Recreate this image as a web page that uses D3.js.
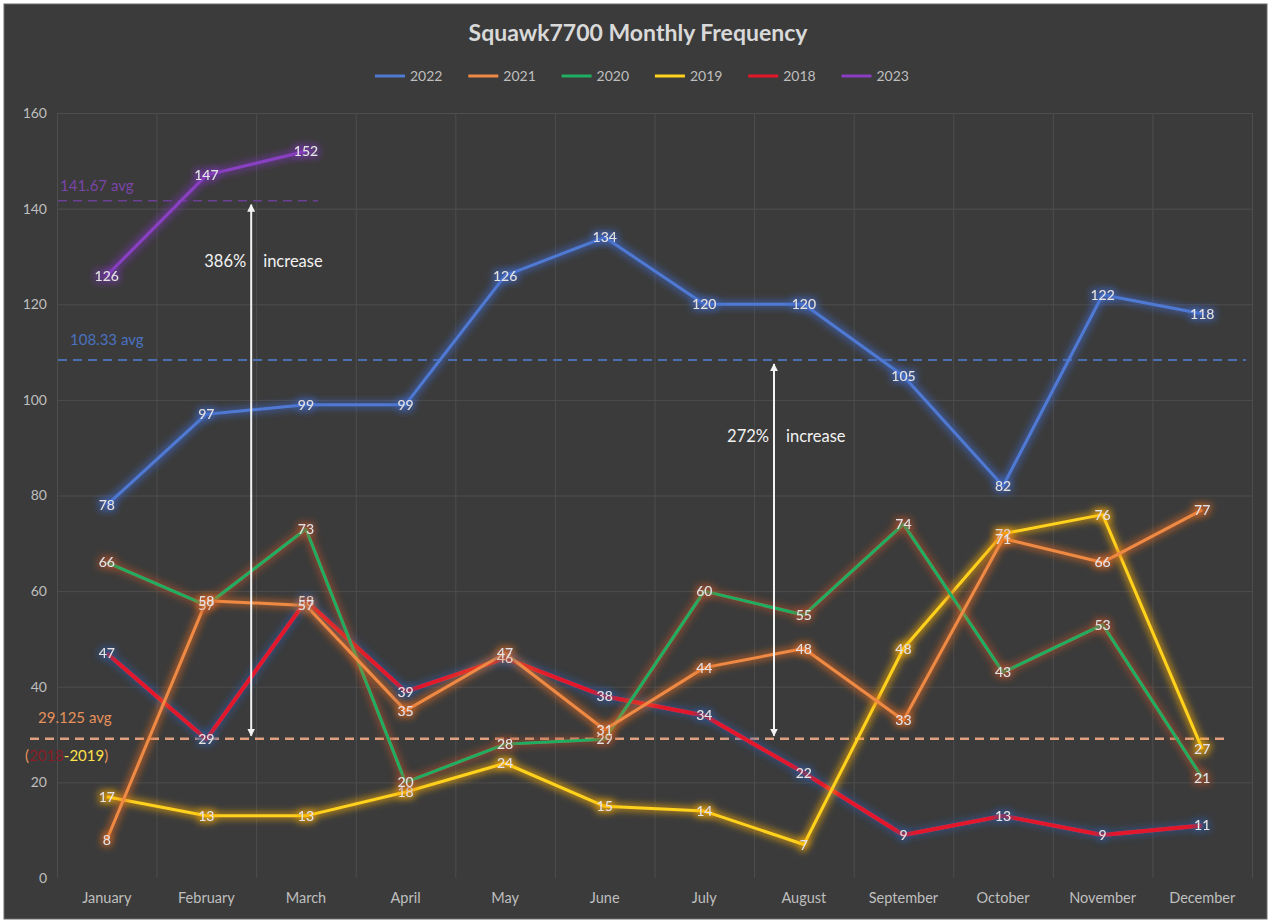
<!DOCTYPE html>
<html>
<head>
<meta charset="utf-8">
<script src="https://cdn.jsdelivr.net/npm/d3@7"></script>
<style>
  html, body { margin: 0; padding: 0; background: #fff; }
  svg { display: block; font-family: Lato, "Open Sans", sans-serif; }
</style>
</head>
<body>
<div id="chart"></div>
<script>
// chart values
const months = ["January", "February", "March", "April", "May", "June",
  "July", "August", "September", "October", "November", "December"];
const yTicks = [0, 20, 40, 60, 80, 100, 120, 140, 160];
const legendOrder = ["2022", "2021", "2020", "2019", "2018", "2023"];

const v2022 = [78, 97, 99, 99, 126, 134, 120, 120, 105, 82, 122, 118];
const v2021 = [8, 58, 57, 35, 47, 31, 44, 48, 33, 71, 66, 77];
const v2020 = [66, 57, 73, 20, 28, 29, 60, 55, 74, 43, 53, 21];
const v2019 = [17, 13, 13, 18, 24, 15, 14, 7, 48, 72, 76, 27];
const v2018 = [47, 29, 58, 39, 46, 38, 34, 22, 9, 13, 9, 11];
const v2023 = [126, 147, 152];

const avg2023 = 141.67;
const avg2022 = 108.33;
const avg2018_19 = 29.125;

const series = [
  { name: "2018", values: v2018, color: "#e3172a", glow: "#2f5597", width: 4 },
  { name: "2019", values: v2019, color: "#ffd21f", glow: "#ffb000", width: 3 },
  { name: "2020", values: v2020, color: "#1fae62", glow: "#b0502a", width: 3 },
  { name: "2021", values: v2021, color: "#ef8a45", glow: "#e06a20", width: 3 },
  { name: "2022", values: v2022, color: "#4f79d2", glow: "#3e68c8", width: 3 },
  { name: "2023", values: v2023, color: "#8a3fc2", glow: "#7a35b5", width: 3 }
];
const byName = Object.fromEntries(series.map(s => [s.name, s]));

const W = 1271, H = 924;
const svg = d3.select("#chart").append("svg")
  .attr("width", W).attr("height", H);

const defs = svg.append("defs");
series.forEach(s => {
  const f = defs.append("filter").attr("id", "glow" + s.name)
    .attr("x", "-20%").attr("y", "-20%").attr("width", "140%").attr("height", "140%");
  f.append("feMorphology").attr("in", "SourceAlpha").attr("operator", "dilate")
    .attr("radius", 2).attr("result", "d");
  f.append("feGaussianBlur").attr("in", "d").attr("stdDeviation", 3.5).attr("result", "b");
  f.append("feFlood").attr("flood-color", s.glow).attr("flood-opacity", 0.6);
  f.append("feComposite").attr("in2", "b").attr("operator", "in").attr("result", "g");
  const m = f.append("feMerge");
  m.append("feMergeNode").attr("in", "g");
  m.append("feMergeNode").attr("in", "SourceGraphic");
});
defs.append("marker").attr("id", "arrowhead")
  .attr("viewBox", "0 0 10 10").attr("refX", 9).attr("refY", 5)
  .attr("markerWidth", 4).attr("markerHeight", 4).attr("orient", "auto-start-reverse")
  .append("path").attr("d", "M0,0 L10,5 L0,10 z").attr("fill", "#f2f2f2");

/* background */
svg.append("rect").attr("x", 4).attr("y", 4).attr("width", W - 8).attr("height", H - 9)
  .attr("fill", "#3b3b3b").attr("stroke", "#6a6a6a");

/* Scale */
const x = d3.scaleBand().domain(months).range([57, 1252]);
const y = d3.scaleLinear().domain([0, 160]).range([878, 113]);
const cx = m => x(m) + x.bandwidth() / 2;

/* grid */
const grid = svg.append("g").attr("stroke", "#4e4e4e").attr("stroke-width", 1);
grid.selectAll(".h").data(yTicks.filter(t => t > 0)).enter().append("line")
  .attr("x1", x.range()[0]).attr("x2", x.range()[1])
  .attr("y1", d => y(d) + 0.5).attr("y2", d => y(d) + 0.5);
grid.selectAll(".v").data(months.concat(["end"])).enter().append("line")
  .attr("x1", (d, i) => x.range()[0] + i * x.bandwidth() + 0.5)
  .attr("x2", (d, i) => x.range()[0] + i * x.bandwidth() + 0.5)
  .attr("y1", y(160)).attr("y2", y(0));

/* title */
svg.append("text").attr("x", 638).attr("y", 41).attr("text-anchor", "middle")
  .attr("fill", "#d9d9d9").attr("font-size", 23).attr("font-weight", "bold")
  .text("Squawk7700 Monthly Frequency");

/* legend */
const legend = svg.append("g").attr("transform", "translate(375, 76)");
legendOrder.forEach((n, i) => {
  const g = legend.append("g").attr("transform", `translate(${i * 93.3}, 0)`);
  g.append("line").attr("x1", 0).attr("x2", 30).attr("y1", 0).attr("y2", 0)
    .attr("stroke", byName[n].color).attr("stroke-width", 3);
  g.append("text").attr("x", 35).attr("y", 5).attr("fill", "#bfbfbf")
    .attr("font-size", 14).text(n);
});

/* Axes */
const yAxis = svg.append("g").attr("transform", "translate(47, 0)")
  .call(d3.axisLeft(y).tickValues(yTicks).tickSize(0).tickPadding(0));
yAxis.select(".domain").remove();
yAxis.selectAll("text").attr("fill", "#bfbfbf").attr("font-size", 14)
  .attr("font-family", "Lato, sans-serif");

const xAxis = svg.append("g").attr("transform", `translate(0, ${y(0)})`)
  .call(d3.axisBottom(x).tickSize(0).tickPadding(15));
xAxis.select(".domain").remove();
xAxis.selectAll("text").attr("fill", "#bfbfbf").attr("font-size", 14.5)
  .attr("font-family", "Lato, sans-serif");

/* average lines */
const avgG = svg.append("g").attr("fill", "none").attr("stroke-dasharray", "9,6");
avgG.append("line").attr("x1", 58).attr("x2", cx("March") + 12)
  .attr("y1", y(avg2023)).attr("y2", y(avg2023))
  .attr("stroke", "#6a3f95").attr("stroke-width", 1.5);
avgG.append("line").attr("x1", 58).attr("x2", x.range()[1] - 6)
  .attr("y1", y(avg2022)).attr("y2", y(avg2022))
  .attr("stroke", "#4a6fb5").attr("stroke-width", 2);
avgG.append("line").attr("x1", 30).attr("x2", cx("December") + 25)
  .attr("y1", y(avg2018_19)).attr("y2", y(avg2018_19))
  .attr("stroke", "#e0a080").attr("stroke-width", 2.5);

svg.append("text").attr("x", 60).attr("y", y(avg2023) - 10).attr("fill", "#7a45a8")
  .attr("font-size", 15).text(avg2023 + " avg");
svg.append("text").attr("x", 70).attr("y", y(avg2022) - 15).attr("fill", "#4a72c0")
  .attr("font-size", 15).text(avg2022 + " avg");
svg.append("text").attr("x", 38).attr("y", y(avg2018_19) - 16).attr("fill", "#e6915a")
  .attr("font-size", 15).text(avg2018_19 + " avg");
const per = svg.append("text").attr("x", 25).attr("y", y(avg2018_19) + 22)
  .attr("font-size", 15);
per.append("tspan").attr("fill", "#e6915a").text("(");
per.append("tspan").attr("fill", "#8a1c26").text("2018");
per.append("tspan").attr("fill", "#ffe14a").text("-2019");
per.append("tspan").attr("fill", "#e6915a").text(")");

/* Add lines */
const line = d3.line().x((d, i) => cx(months[i])).y(d => y(d));
series.forEach(s => {
  svg.append("path").datum(s.values)
    .attr("d", line)
    .attr("fill", "none")
    .attr("stroke", s.color)
    .attr("stroke-width", s.width)
    .attr("stroke-linejoin", "round")
    .attr("filter", `url(#glow${s.name})`);
});

/* data labels (centred on the points, overlapping as in the original) */
series.forEach(s => {
  svg.append("g").attr("filter", `url(#glow${s.name})`)
    .selectAll("text").data(s.values).enter().append("text")
    .attr("x", (d, i) => cx(months[i]))
    .attr("y", d => y(d) + 5)
    .attr("text-anchor", "middle")
    .attr("font-size", 14)
    .attr("fill", "#e4e4e4")
    .text(d => d);
});

/* increase annotations */
function annotate(xPos, hi, lo, textVal) {
  svg.append("line")
    .attr("x1", xPos).attr("x2", xPos)
    .attr("y1", y(hi) + 4).attr("y2", y(lo) - 3)
    .attr("stroke", "#f2f2f2").attr("stroke-width", 2)
    .attr("marker-start", "url(#arrowhead)").attr("marker-end", "url(#arrowhead)");
  const pct = Math.round((hi / lo - 1) * 100);
  svg.append("text").attr("x", xPos - 5).attr("y", y(textVal) + 6)
    .attr("text-anchor", "end").attr("fill", "#f2f2f2").attr("font-size", 16.5)
    .text(pct + "%");
  svg.append("text").attr("x", xPos + 12).attr("y", y(textVal) + 6)
    .attr("fill", "#f2f2f2").attr("font-size", 16.5).text("increase");
}
annotate(x("February") + x.bandwidth() * 0.95, avg2023, avg2018_19, 129);
annotate(x("July") + x.bandwidth() * 1.2, avg2022, avg2018_19, 92.5);
</script>
</body>
</html>
